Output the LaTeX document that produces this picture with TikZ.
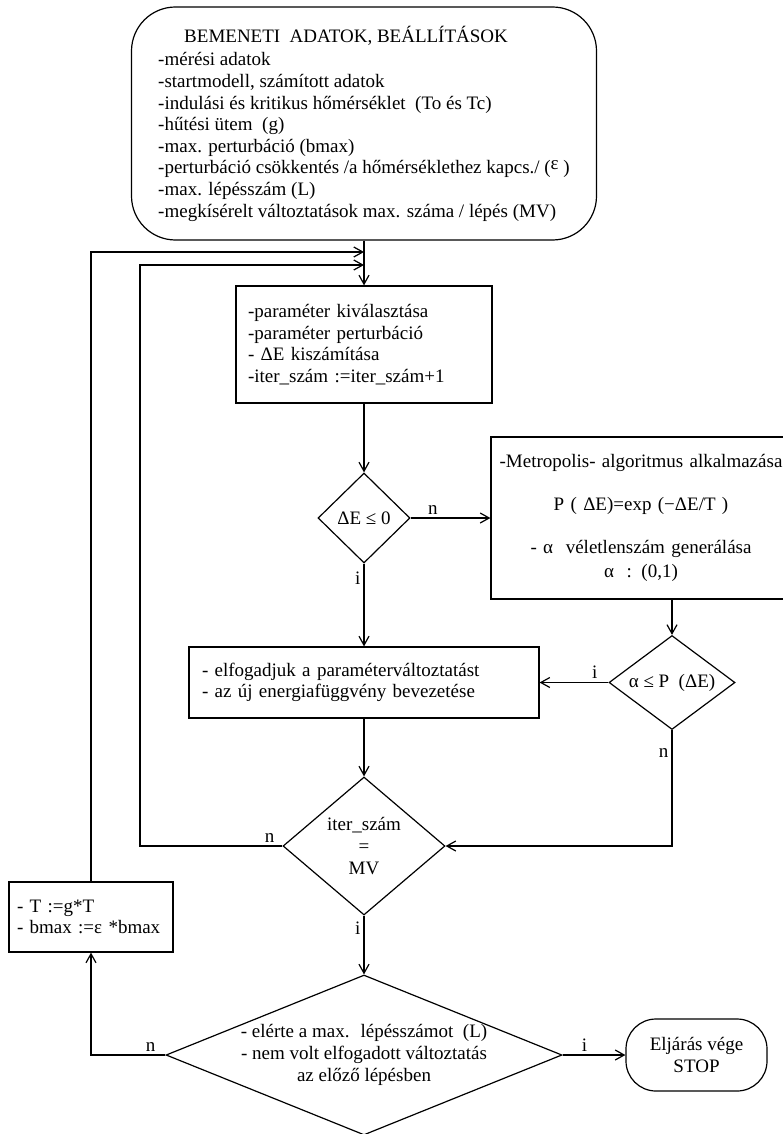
\documentclass[tikz,border=0pt]{standalone}
\usepackage{fontspec}
\setmainfont{Liberation Serif}
\usetikzlibrary{shapes.geometric, arrows.meta}

\begin{document}
\begin{tikzpicture}
    [
        x=1pt, y=-1pt,
        every node/.style = {font=\fontsize{19}{21.6}\selectfont},
        box/.style = {draw, shape=rectangle, align=left, line width=1.2pt},
        rbox/.style = {draw, shape=rectangle, align=center, rounded corners=44pt, line width=1.2pt},
        decision/.style = {draw, shape=diamond, inner sep=-4pt, align=center, line width=1.2pt},
        line/.style = {draw, line width=1.2pt, -{Straight Barb[length=9pt, width=10pt]}},
        lbl/.style = {inner sep=3pt},
    ]

    \useasboundingbox (0,0) rectangle (783,1134);

    \node[rbox, align=left, minimum width=465pt, minimum height=233pt] (input) at (364,123.5)
        {\hspace*{26pt}BEMENETI~ ADATOK, BEÁLLÍTÁSOK\\[2pt]
         -mérési adatok\\
         -startmodell, számított adatok\\
         -indulási és kritikus hőmérséklet~ (To és Tc)\\
         -hűtési ütem~ (g)\\
         -max. perturbáció (bmax)\\
         -perturbáció csökkentés /a hőmérséklethez kapcs./ (\raisebox{4pt}{ε} )\\
         -max. lépésszám (L)\\
         -megkísérelt változtatások max. száma / lépés (MV)};

    \node[box, text width=232pt, inner xsep=12pt, minimum height=117pt] (param) at (364,344.5)
        {-paraméter kiválasztása\\
         -paraméter perturbáció\\
         - ΔE kiszámítása\\
         -iter\_szám :=iter\_szám+1};

    \node[decision, minimum width=92pt, minimum height=90pt] (de) at (364,518) {ΔE ≤ 0};

    \node[box, align=center, text width=290pt, inner xsep=5pt, minimum height=162pt] (metro) at (641,518)
        {-Metropolis- algoritmus alkalmazása\\[21pt]
         P ( ΔE)=exp (−ΔE/T )\\[22pt]
         - α~ véletlenszám generálása\\[2pt]
         α~ : (0,1)};

    \node[decision, aspect=1.34, minimum width=126pt, minimum height=94pt] (alpha) at (672,682.5) {α ≤ P~ (ΔE)};

    \node[box, text width=324pt, inner xsep=13pt, minimum height=71pt] (accept) at (364,682.5)
        {- elfogadjuk a paraméterváltoztatást\\
         - az új energiafüggvény bevezetése};

    \node[decision, aspect=1.17, minimum width=162pt, minimum height=138pt] (iter) at (364,846)
        {iter\_szám\\=\\MV};

    \node[decision, aspect=2.5, inner xsep=-15pt, inner ysep=-8pt, minimum width=396pt, minimum height=160pt] (final) at (364,1055)
        {- elérte a max.~ lépésszámot~ (L)\\
         - nem volt elfogadott változtatás\\
         az előző lépésben};

    \node[rbox, minimum width=141pt, minimum height=72pt, rounded corners=30pt] (stop) at (696.5,1055)
        {Eljárás vége\\STOP};

    \node[box, text width=148pt, inner xsep=8pt, minimum height=70pt] (tbox) at (91,917)
        {- T :=g*T\\
         - bmax :=ε *bmax};

    % merge points of the loops
    \coordinate (in1) at (364,252);
    \coordinate (in2) at (364,265);
    \coordinate (ret) at (140,265);

    \draw[line] (input.south) -- (param.north);
    \draw[line] (tbox.north) |- (in1);
    \draw[line] (iter.west) -- node[lbl, above, pos=0.09] (l1) {n} (iter.west -| ret) -- (ret) -- (in2);

    \draw[line] (param.south) -- (de.north);
    \draw[line] (de.east) -- node[lbl, above, pos=0.28] (l2) {n} (metro.west);
    \draw[line] (de.south) -- node[lbl, left, pos=0.18] (l3) {i} (accept.north);

    \draw[line] (metro.south -| alpha) -- (alpha.north);
    \draw[line] (alpha.west) -- node[lbl, above, pos=0.2] (l4) {i} (accept.east);
    \draw[line] (alpha.south) |- node[lbl, left, pos=0.1] (l5) {n} (iter.east);

    \draw[line] (accept.south) -- (iter.north);
    \draw[line] (iter.south) -- node[lbl, left, pos=0.22] (l6) {i} (final.north);

    \draw[line] (final.east) -- node[lbl, above, pos=0.35] (l7) {i} (stop.west);
    \draw[line] (final.west) -| node[lbl, above, pos=0.1] (l8) {n} (tbox.south);

\end{tikzpicture}
\end{document}
